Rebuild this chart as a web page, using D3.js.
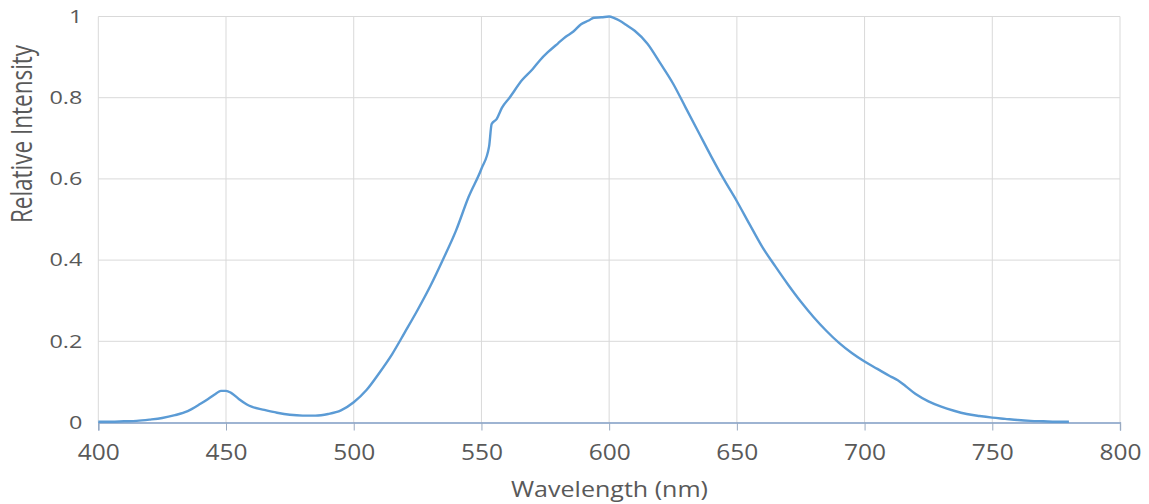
<!DOCTYPE html>
<html>
<head>
<meta charset="utf-8">
<script src="https://cdn.jsdelivr.net/npm/d3@7"></script>
<style>
  body { margin: 0; background: #fff; }
  text { font-family: "Open Sans", sans-serif; fill: #595959; }
</style>
</head>
<body>
<div id="chart"></div>
<script>
var svgWidth = 1149;
var svgHeight = 504;

var margin = { top: 16.5, right: 29, bottom: 81.5, left: 98.3 };

var chartWidth = svgWidth - margin.left - margin.right;
var chartHeight = svgHeight - margin.top - margin.bottom;

// wavelength (nm) and relative intensity
var wavelengths = [400, 405, 410, 415, 420, 425, 430, 435, 440, 443, 446, 448, 450, 452, 455, 458, 460, 465, 470, 475,
  480, 485, 490, 495, 500, 505, 510, 515, 520, 525, 530, 535, 540, 545, 550, 553, 554, 556, 558, 561,
  566, 570, 573, 576, 580, 583, 586, 589, 592, 594, 597, 600, 602, 604, 607, 610, 615, 620, 625, 630,
  635, 640, 645, 650, 655, 660, 665, 670, 675, 680, 685, 690, 695, 700, 705, 710, 713, 716, 720, 725,
  730, 735, 740, 745, 750, 755, 760, 765, 770, 775, 780];
var intensity = [0.002, 0.002, 0.003, 0.004, 0.007, 0.011, 0.018, 0.028, 0.046, 0.058, 0.071, 0.078, 0.078, 0.073, 0.058, 0.045, 0.039, 0.031, 0.024, 0.019,
  0.017, 0.017, 0.021, 0.030, 0.050, 0.080, 0.122, 0.168, 0.222, 0.277, 0.336, 0.402, 0.472, 0.556, 0.625, 0.680, 0.735, 0.748, 0.775, 0.800,
  0.844, 0.870, 0.893, 0.912, 0.934, 0.950, 0.963, 0.981, 0.990, 0.997, 0.998, 1.000, 0.996, 0.990, 0.978, 0.965, 0.933, 0.885, 0.835, 0.775,
  0.715, 0.655, 0.598, 0.545, 0.488, 0.432, 0.385, 0.340, 0.298, 0.260, 0.226, 0.196, 0.171, 0.150, 0.132, 0.114, 0.104, 0.090, 0.070, 0.052,
  0.039, 0.029, 0.021, 0.016, 0.012, 0.009, 0.006, 0.004, 0.003, 0.002, 0.002];

var xTicks = [400, 450, 500, 550, 600, 650, 700, 750, 800];
var yTicks = [0, 0.2, 0.4, 0.6, 0.8, 1];

var spectrum = wavelengths.map(function(w, i) {
  return { wl: w, val: intensity[i] };
});

var svg = d3.select("#chart")
  .append("svg")
  .attr("width", svgWidth)
  .attr("height", svgHeight);

var chartGroup = svg.append("g")
  .attr("transform", `translate(${margin.left}, ${margin.top})`);

var xScale = d3.scaleLinear()
  .domain([400, 800])
  .range([0, chartWidth]);

var yScale = d3.scaleLinear()
  .domain([0, 1])
  .range([chartHeight, 0]);

// gridlines
chartGroup.append("g")
  .selectAll("line")
  .data(xTicks)
  .enter()
  .append("line")
  .attr("x1", d => xScale(d))
  .attr("x2", d => xScale(d))
  .attr("y1", 0)
  .attr("y2", chartHeight)
  .attr("stroke", "#d9d9d9")
  .attr("stroke-width", 1);

chartGroup.append("g")
  .selectAll("line")
  .data(yTicks.slice(1))
  .enter()
  .append("line")
  .attr("x1", 0)
  .attr("x2", chartWidth)
  .attr("y1", d => yScale(d))
  .attr("y2", d => yScale(d))
  .attr("stroke", "#d9d9d9")
  .attr("stroke-width", 1);

// x axis
var bottomAxis = d3.axisBottom(xScale)
  .tickValues(xTicks)
  .tickSize(8)
  .tickPadding(15)
  .tickFormat(d3.format("d"));

var xAxis = chartGroup.append("g")
  .attr("transform", `translate(0, ${chartHeight})`)
  .call(bottomAxis);
xAxis.select(".domain").attr("stroke", "#7f9cc4").attr("stroke-width", 1.3);
xAxis.selectAll(".tick line").attr("stroke", "#9aaac0");
xAxis.selectAll(".tick text")
  .style("font-size", "21px")
  .style("fill", "#595959")
  .attr("textLength", 42)
  .attr("lengthAdjust", "spacingAndGlyphs");

// y axis (the picture is stretched sideways, so widen the labels)
var leftAxis = d3.axisLeft(yScale)
  .tickValues(yTicks)
  .tickSize(0)
  .tickPadding(16)
  .tickFormat(d => d === 0 || d === 1 ? d : d3.format(".1f")(d));

var yAxis = chartGroup.append("g").call(leftAxis);
yAxis.select(".domain").remove();
yAxis.selectAll(".tick text")
  .style("font-size", "18px")
  .style("fill", "#595959")
  .each(function() {
    var w = this.getComputedTextLength();
    d3.select(this).attr("textLength", w * 1.3).attr("lengthAdjust", "spacingAndGlyphs");
  });

// spectrum line
var line = d3.line()
  .x(d => xScale(d.wl))
  .y(d => yScale(d.val))
  .curve(d3.curveMonotoneX);

chartGroup.append("path")
  .datum(spectrum)
  .attr("d", line)
  .attr("fill", "none")
  .attr("stroke", "#5b9bd5")
  .attr("stroke-width", 2.4)
  .attr("stroke-linejoin", "round");

// axis titles
svg.append("text")
  .attr("x", 609.5)
  .attr("y", 497)
  .attr("text-anchor", "middle")
  .attr("textLength", 197)
  .attr("lengthAdjust", "spacingAndGlyphs")
  .style("font-size", "22px")
  .text("Wavelength (nm)");

svg.append("text")
  .attr("transform", "translate(32, 134) scale(1.3, 1) rotate(-90)")
  .attr("text-anchor", "middle")
  .style("font-size", "22.5px")
  .text("Relative Intensity");
</script>
</body>
</html>
